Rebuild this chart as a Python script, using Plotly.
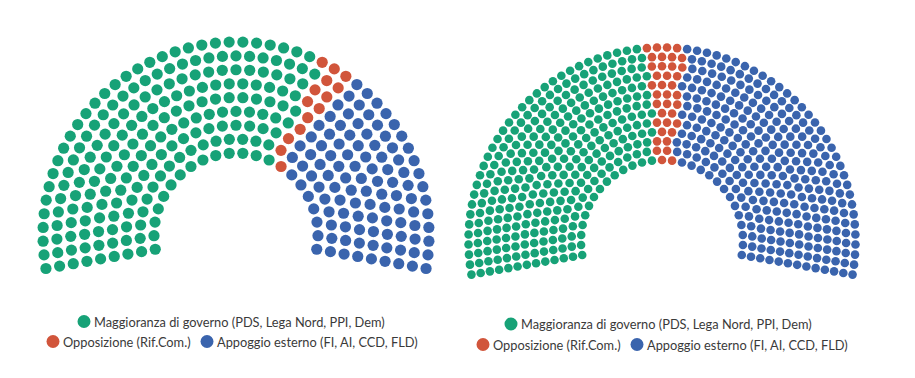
import math
import plotly.graph_objects as go

# ---------------- data ----------------
parties = [
    "Maggioranza di governo (PDS, Lega Nord, PPI, Dem)",
    "Opposizione (Rif.Com.)",
    "Appoggio esterno (FI, AI, CCD, FLD)",
]
colors = ["#17a277", "#d1553b", "#3a64ad"]
seats_left = [205, 14, 107]     # first hemicycle
seats_right = [301, 37, 292]    # second hemicycle

W, H = 915, 378
OFF = 8  # default page body margin


def parliament_slots(total, rows, r_in, r_out, cx, cy, start=-100.0, end=100.0):
    """Highcharts-like parliament layout (seats per arc, sorted by angle)."""
    full = math.radians(end - start)
    start_rad = math.radians(start - 90)
    radii = [r_out - i * (r_out - r_in) / (rows - 1) for i in range(rows)]

    def build(s):
        rs = []
        cnt = 0
        for r in radii:
            length = full * r
            cc = math.ceil(length / s)
            rs.append({"r": r, "len": length, "cc": cc})
            cnt += cc + 1
        return rs, cnt

    s = 1.0
    best = None
    while True:
        rs, cnt = build(s)
        if cnt >= total:
            best = (rs, cnt)
            s += 0.05
        else:
            break
    rs, cnt = best
    over = cnt - total
    while over > 0:
        order = sorted(rs, key=lambda d: d["cc"] / d["len"], reverse=True)
        for d in order[: min(over, math.ceil(len(rs) / 2))]:
            d["cc"] -= 1
            over -= 1
    slots = []
    for d in rs:
        inc = full / d["cc"] if d["cc"] else 0
        for j in range(d["cc"] + 1):
            a = start_rad + j * inc
            slots.append((a, cx + math.cos(a) * d["r"], cy + math.sin(a) * d["r"]))
    slots.sort(key=lambda t: t[0])
    return slots


fig = go.Figure()


def add_hemicycle(seats, rows, r_in, r_out, cx, cy, msize):
    total = sum(seats)
    slots = parliament_slots(total, rows, r_in, r_out, cx, cy)
    idx = 0
    for name, n, col in zip(parties, seats, colors):
        pts = slots[idx: idx + n]
        idx += n
        fig.add_trace(go.Scatter(
            x=[p[1] for p in pts], y=[p[2] for p in pts],
            mode="markers", name=name, showlegend=False,
            marker=dict(size=msize, color=col, line=dict(width=0)),
            hovertemplate=name + "<extra></extra>",
        ))


add_hemicycle(seats_left, 9, 82, 193, 236, 235, 11.2)
add_hemicycle(seats_right, 13, 81, 193.5, 662, 241, 8.6)

# ---------------- legends ----------------
font = dict(family="Lato, 'Open Sans', sans-serif", size=12.8, color="#3a3a3a")
legend_items = [
    # (party index, marker x, y, text x)
    (0, 84, 321.5, 92),
    (1, 53, 341.5, 61),
    (2, 207, 341.5, 215),
    (0, 511, 324, 519),
    (1, 483, 344.5, 491),
    (2, 637, 344.5, 645),
]
shapes = []
annotations = []
for pi, mx, my, tx in legend_items:
    shapes.append(dict(type="circle", xref="x", yref="y",
                       x0=mx - 6.5, x1=mx + 6.5, y0=my - 6.5, y1=my + 6.5,
                       fillcolor=colors[pi], line=dict(width=0)))
    annotations.append(dict(x=tx, y=my, xref="x", yref="y", text=parties[pi],
                            showarrow=False, xanchor="left", yanchor="middle",
                            font=font))

fig.update_layout(
    width=W - OFF, height=H - OFF,
    margin=dict(l=0, r=0, t=0, b=0),
    paper_bgcolor="white", plot_bgcolor="white",
    xaxis=dict(range=[OFF, W], visible=False, fixedrange=True),
    yaxis=dict(range=[H, OFF], visible=False, fixedrange=True),
    shapes=shapes, annotations=annotations,
    showlegend=False,
)

fig.write_html("out.html")
